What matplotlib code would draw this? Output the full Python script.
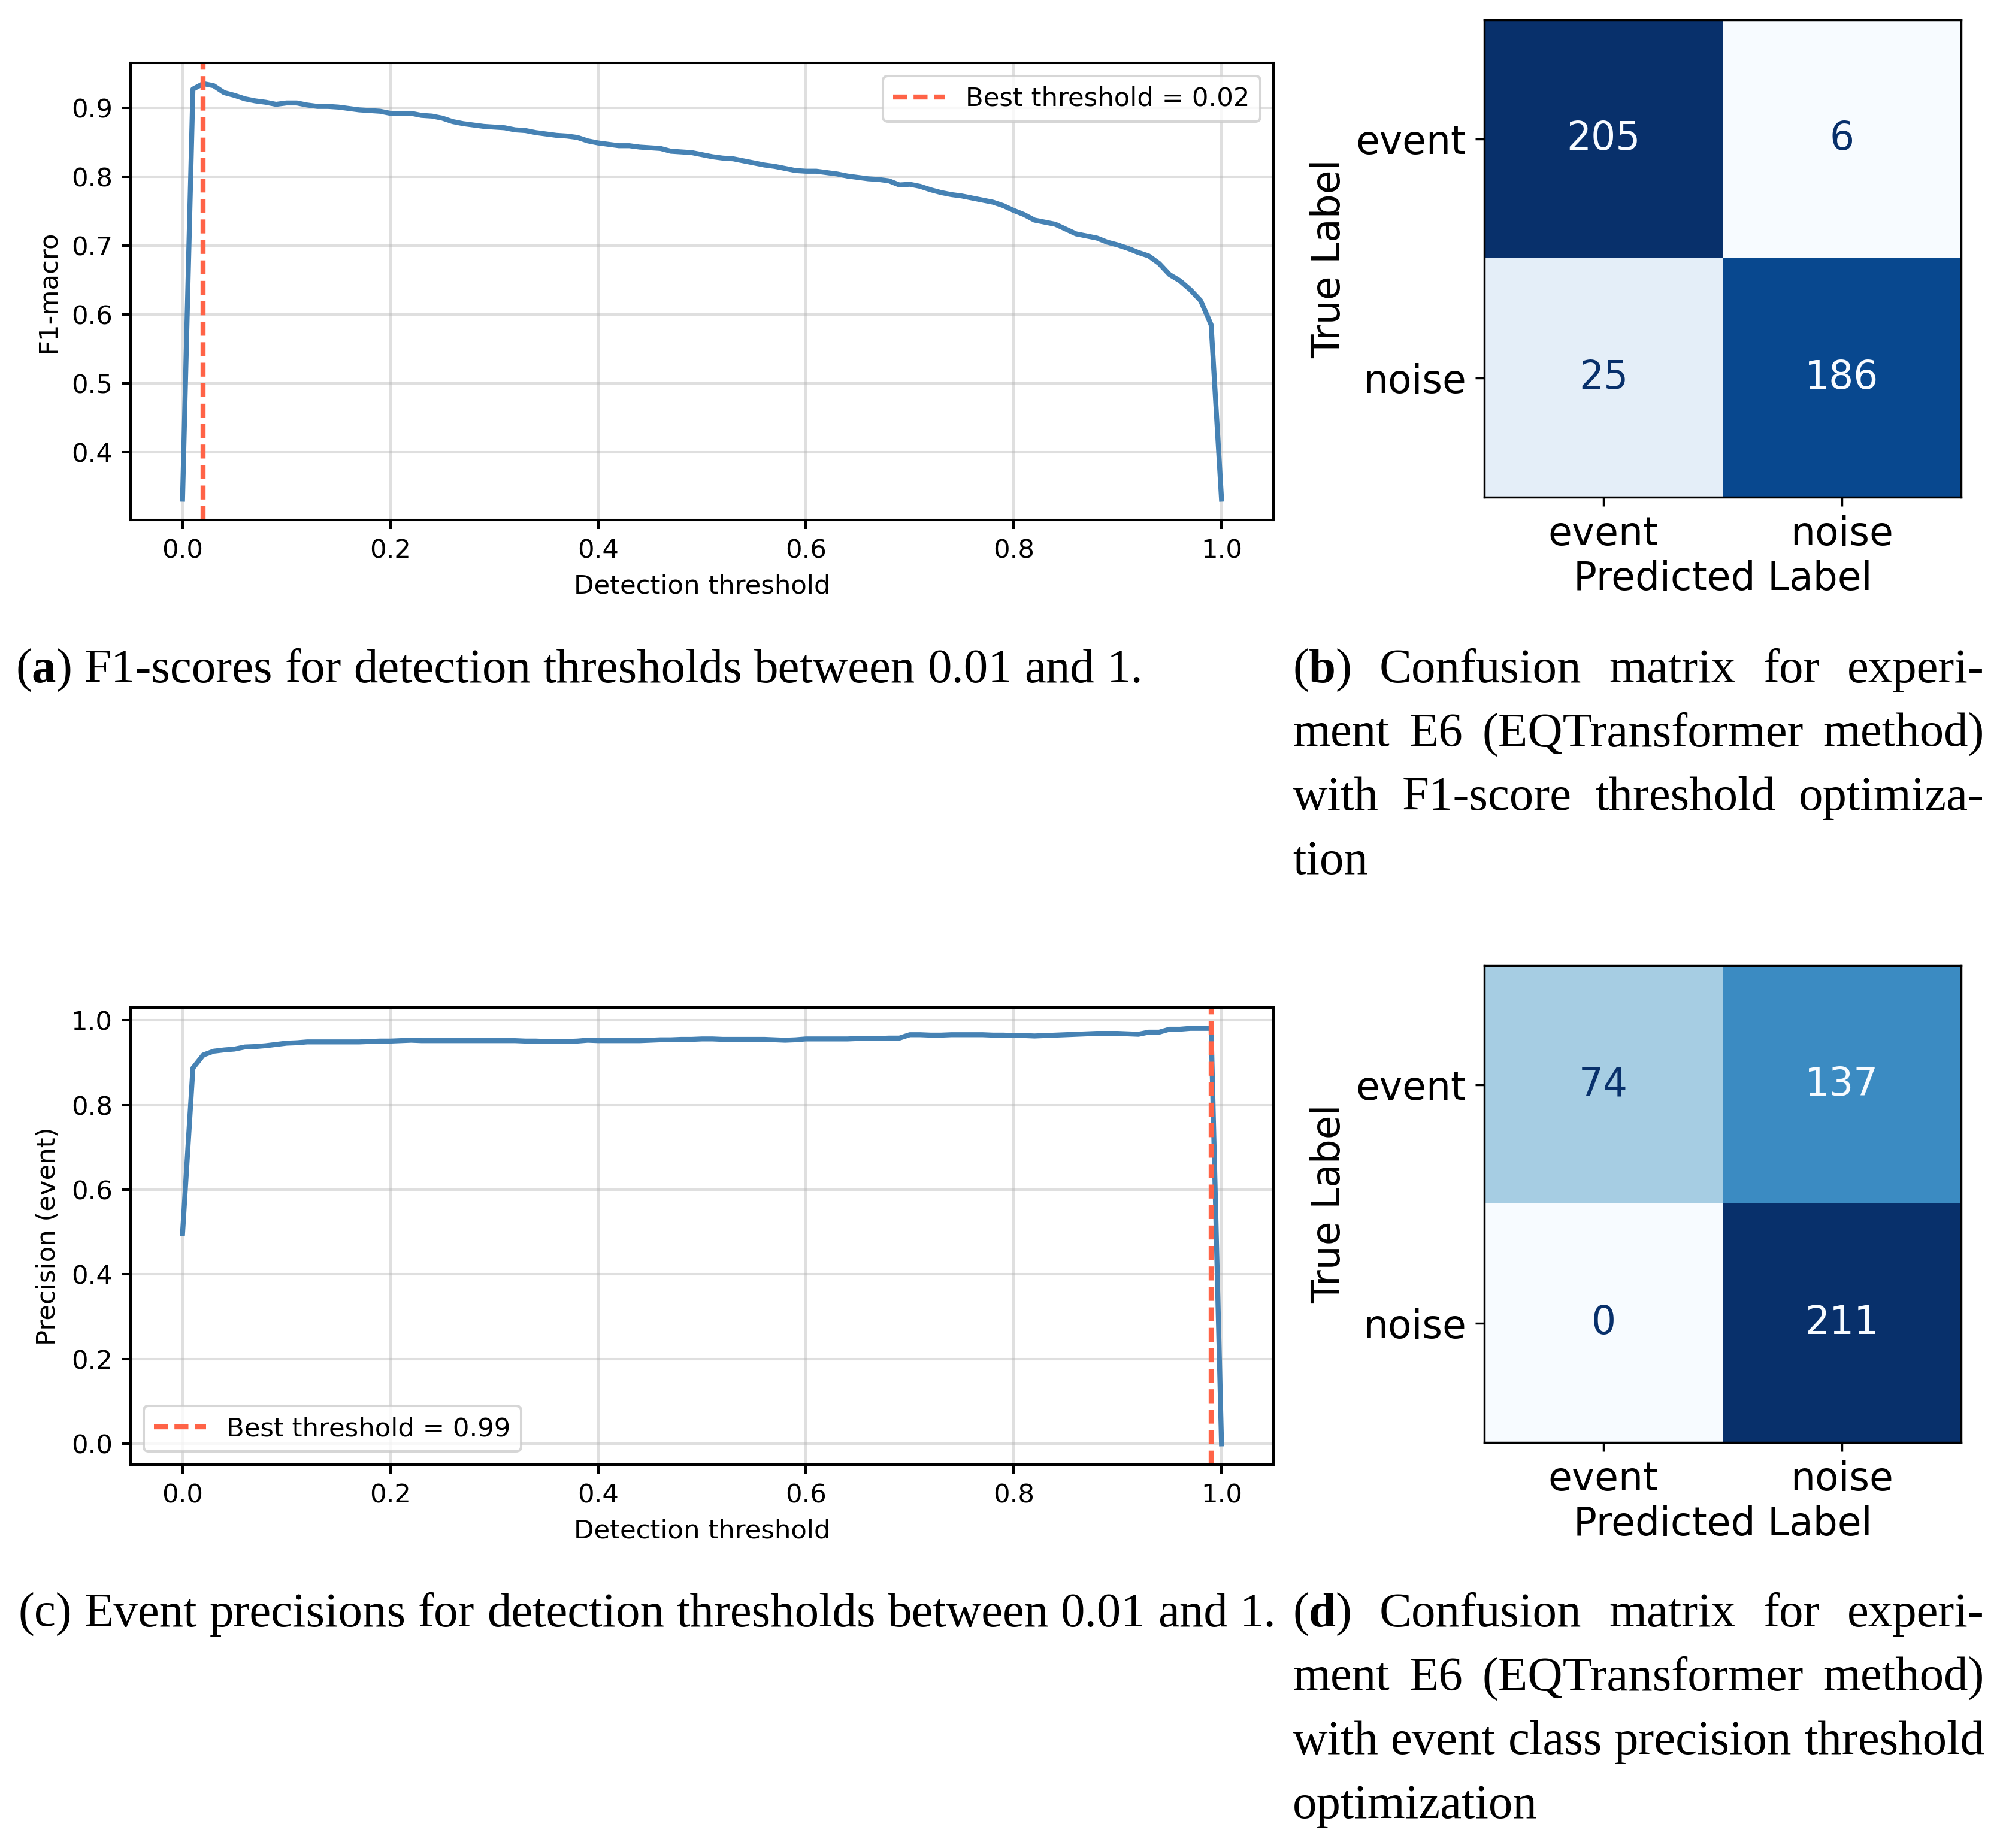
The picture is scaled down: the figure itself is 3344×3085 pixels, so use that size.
import matplotlib
matplotlib.use('Agg')
import matplotlib.pyplot as plt
import numpy as np

thresholds = np.round(np.arange(0, 1.001, 0.01), 2)

f1_macro = [0.332, 0.927, 0.935, 0.932, 0.922, 0.918, 0.913, 0.910, 0.908, 0.905,
            0.907, 0.907, 0.904, 0.902, 0.902, 0.901, 0.899, 0.897, 0.896, 0.895,
            0.892, 0.892, 0.892, 0.889, 0.888, 0.885, 0.880, 0.877, 0.875, 0.873,
            0.872, 0.871, 0.868, 0.867, 0.864, 0.862, 0.860, 0.859, 0.857, 0.852,
            0.849, 0.847, 0.845, 0.845, 0.843, 0.842, 0.841, 0.837, 0.836, 0.835,
            0.832, 0.829, 0.827, 0.826, 0.823, 0.820, 0.817, 0.815, 0.812, 0.809,
            0.808, 0.808, 0.806, 0.804, 0.801, 0.799, 0.797, 0.796, 0.794, 0.788,
            0.789, 0.786, 0.781, 0.777, 0.774, 0.772, 0.769, 0.766, 0.763, 0.758,
            0.751, 0.745, 0.737, 0.734, 0.731, 0.724, 0.717, 0.714, 0.711, 0.705,
            0.701, 0.696, 0.690, 0.685, 0.674, 0.658, 0.649, 0.636, 0.620, 0.585,
            0.332]

precision_event = [0.496, 0.887, 0.918, 0.927, 0.930, 0.932, 0.937, 0.938, 0.940, 0.943,
                   0.946, 0.947, 0.949, 0.949, 0.949, 0.949, 0.949, 0.949, 0.950, 0.951,
                   0.951, 0.952, 0.953, 0.952, 0.952, 0.952, 0.952, 0.952, 0.952, 0.952,
                   0.952, 0.952, 0.952, 0.951, 0.951, 0.950, 0.950, 0.950, 0.951, 0.953,
                   0.952, 0.952, 0.952, 0.952, 0.952, 0.953, 0.954, 0.954, 0.955, 0.955,
                   0.956, 0.956, 0.955, 0.955, 0.955, 0.955, 0.955, 0.954, 0.953, 0.954,
                   0.956, 0.956, 0.956, 0.956, 0.956, 0.957, 0.957, 0.957, 0.958, 0.958,
                   0.966, 0.966, 0.965, 0.965, 0.966, 0.966, 0.966, 0.966, 0.965, 0.965,
                   0.964, 0.964, 0.963, 0.964, 0.965, 0.966, 0.967, 0.968, 0.969, 0.969,
                   0.969, 0.968, 0.967, 0.972, 0.972, 0.979, 0.979, 0.981, 0.981, 0.981,
                   0.000]

best_f1 = 0.02
best_prec = 0.99

class_names = ['event', 'noise']
cm_f1 = np.array([[205, 6], [25, 186]])
cm_prec = np.array([[74, 137], [0, 211]])

caption_a = [["(", "a", ")"], "F1-scores for detection thresholds between 0.01 and 1."]
caption_c = [["(c)"], "Event precisions for detection thresholds between 0.01 and 1."]
caption_b = [["(", "b", ")"], ["Confusion matrix for experi-",
                               "ment E6 (EQTransformer method)",
                               "with F1-score threshold optimiza-",
                               "tion"]]
caption_d = [["(", "d", ")"], ["Confusion matrix for experi-",
                               "ment E6 (EQTransformer method)",
                               "with event class precision threshold",
                               "optimization"]]

W, H = 3344, 3085
fig = plt.figure(figsize=(W / 100, H / 100), dpi=100)
renderer = fig.canvas.get_renderer()


def box(l, t, r, b):
    return [l / W, 1 - b / H, (r - l) / W, (b - t) / H]


# ---- threshold curves ----
s = 3.12  # font scale of the original small figure
lw_frame = 2.9
def curve_plot(rect, y, best, ylabel, loc):
    ax = fig.add_axes(box(*rect))
    ax.plot(thresholds, y, color='steelblue', lw=6)
    ax.axvline(best, color='tomato', ls=(0, (2.8, 1.3)), lw=6,
               label='Best threshold = %.2f' % best)
    ax.grid(True, color='#b0b0b0', alpha=0.4, lw=lw_frame)
    ax.set_xlabel('Detection threshold', fontsize=10 * s, labelpad=4 * s)
    ax.set_ylabel(ylabel, fontsize=10 * s, labelpad=4 * s)
    ax.tick_params(labelsize=10 * s, length=3.5 * s, width=lw_frame, pad=3.5 * s)
    for sp in ax.spines.values():
        sp.set_linewidth(lw_frame)
    leg = ax.legend(loc=loc, fontsize=10 * s, borderpad=0.4, handlelength=2.0,
                    borderaxespad=0.5)
    leg.get_frame().set_linewidth(lw_frame)
    return ax

curve_plot((218, 105, 2126, 868), f1_macro, best_f1, 'F1-macro', 'upper right')
curve_plot((218, 1682, 2126, 2445), precision_event, best_prec, 'Precision (event)', 'lower left')

# ---- confusion matrices ----
c = 3.1
def cm_plot(rect, cm):
    ax = fig.add_axes(box(*rect))
    cmap = plt.cm.Blues
    ax.imshow(cm, cmap=cmap, interpolation='nearest', aspect='auto')
    thresh = (cm.max() + cm.min()) / 2.0
    for i in range(2):
        for j in range(2):
            col = cmap(0.0) if cm[i, j] > thresh else cmap(1.0)
            ax.text(j, i, str(cm[i, j]), ha='center', va='center',
                    color=col, fontsize=15 * c)
    ax.set_xticks([0, 1])
    ax.set_yticks([0, 1])
    ax.set_xticklabels(class_names)
    ax.set_yticklabels(class_names)
    ax.set_xlabel('Predicted Label', fontsize=15 * c, labelpad=2.5 * c)
    ax.set_ylabel('True Label', fontsize=15 * c, labelpad=3 * c)
    ax.tick_params(labelsize=15 * c, length=3.5 * c, width=0.8 * c, pad=3.5 * c)
    for sp in ax.spines.values():
        sp.set_linewidth(0.8 * c)
    return ax

cm_plot((2478, 33, 3274, 830), cm_f1)
cm_plot((2478, 1612, 3274, 2408), cm_prec)

# ---- captions (serif, justified like the LaTeX page) ----
cap_font = 'Liberation Serif'


def text_w(txt, fs, bold=False):
    t = fig.text(0, 0, txt, fontsize=fs, family=cap_font,
                 weight='bold' if bold else 'normal')
    w = t.get_window_extent(renderer).width
    t.remove()
    return w


def label_runs(lab):
    if len(lab) == 3:
        return [(lab[0], False), (lab[1], True), (lab[2], False)]
    return [(lab[0], False)]


def line_words(line, label=None):
    words = [[(w, False)] for w in line.split(' ')]
    if label is not None:
        words = [label_runs(label)] + words
    return words


def words_w(words, fs):
    return [sum(text_w(r, fs, b) for r, b in wd) for wd in words]


def space_w(fs):
    return text_w('x x', fs) - text_w('xx', fs)


def draw_line(words, x0, yb, fs, width=None):
    ws = words_w(words, fs)
    if width is not None and len(words) > 1:
        gap = (width - sum(ws)) / (len(words) - 1)
    else:
        gap = space_w(fs)
    x = x0
    for wd, ww in zip(words, ws):
        xx = x
        for r, b in wd:
            fig.text(xx / W, 1 - yb / H, r, fontsize=fs, family=cap_font,
                     weight='bold' if b else 'normal', ha='left', va='baseline')
            xx += text_w(r, fs, b)
        x += ww + gap


# pick the caption size so the single-line captions span their measured widths
base = 50
wa = words_w(line_words(caption_a[1], caption_a[0]), base)
wa_tot = sum(wa) + space_w(base) * (len(wa) - 1)
wc = words_w(line_words(caption_c[1], caption_c[0]), base)
wc_tot = sum(wc) + space_w(base) * (len(wc) - 1)
fs_cap = base * 0.5 * (1879 / wa_tot + 2108 / wc_tot)

draw_line(line_words(caption_a[1], caption_a[0]), 26, 1139, fs_cap)
draw_line(line_words(caption_c[1], caption_c[0]), 31, 2715, fs_cap)

lead = 106.5
for cap, y0 in [(caption_b, 1139), (caption_d, 2715)]:
    lines = cap[1]
    for k, ln in enumerate(lines):
        wds = line_words(ln, cap[0] if k == 0 else None)
        width = 3313 - 2158 if k < len(lines) - 1 else None
        draw_line(wds, 2158, y0 + k * lead, fs_cap, width)

fig.savefig('out.png', dpi=100)
plt.close()
